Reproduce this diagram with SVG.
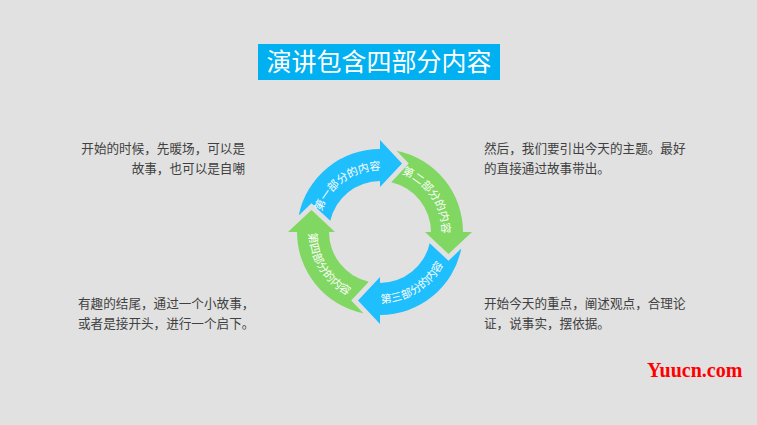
<svg xmlns="http://www.w3.org/2000/svg" xmlns:xlink="http://www.w3.org/1999/xlink" width="757" height="425" viewBox="0 0 757 425">
<style>
.blue{fill:#1fbefd}
.green{fill:#80d761}
.lbl{font-family:"Noto Sans CJK SC",sans-serif;font-size:11px;fill:#ffffff}
.body{font-family:"Noto Sans CJK SC",sans-serif;font-size:12.6px;fill:#404040}
.title{font-family:"Noto Sans CJK SC",sans-serif;font-size:25px;fill:#ffffff}
</style>
<defs>
<path id="arrowShape" d="M298.7,215.4 A83,83 0 0 1 380,149 L380,140 L402,163.5 L380,187 L380,181 A51,51 0 0 0 330.3,220.75 L311.5,203.2 Z"/>
<path id="p1" d="M318.24,237.40 A62,62 0 0 1 406.20,175.81"/>
<path id="p2" d="M375.67,170.15 A62,62 0 0 1 435.73,259.18"/>
<path id="p3" d="M346.67,294.69 A71,71 0 0 0 450.96,229.52"/>
<path id="p4" d="M317.31,198.67 A71,71 0 0 0 382.48,302.96"/>
</defs>
<rect x="0" y="0" width="757" height="425" fill="#e1e1e1"/>
<g id="title">
<rect x="258" y="44" width="242" height="36" fill="#00b0f0"/>
<text class="title" x="379" y="71" text-anchor="middle">演讲包含四部分内容</text>
</g>
<g id="part1">
<use href="#arrowShape" class="blue"/>
<text class="lbl" text-anchor="middle"><textPath href="#p1" startOffset="50%">第一部分的内容</textPath></text>
</g>
<g id="part2">
<use href="#arrowShape" class="green" transform="rotate(90 380 232)"/>
<text class="lbl" text-anchor="middle"><textPath href="#p2" startOffset="50%">第二部分的内容</textPath></text>
</g>
<g id="part3">
<use href="#arrowShape" class="blue" transform="rotate(180 380 232)"/>
<text class="lbl" text-anchor="middle"><textPath href="#p3" startOffset="50%">第三部分的内容</textPath></text>
</g>
<g id="part4">
<use href="#arrowShape" class="green" transform="rotate(270 380 232)"/>
<text class="lbl" text-anchor="middle"><textPath href="#p4" startOffset="50%">第四部分的内容</textPath></text>
</g>
<g id="connectors"/>
<g id="text-top-left">
<text class="body" x="245" y="153" text-anchor="end">开始的时候，先暖场，可以是</text>
<text class="body" x="245" y="173" text-anchor="end">故事，也可以是自嘲</text>
</g>
<g id="text-top-right">
<text class="body" x="484" y="153">然后，我们要引出今天的主题。最好</text>
<text class="body" x="484" y="173">的直接通过故事带出。</text>
</g>
<g id="text-bottom-left">
<text class="body" x="78" y="308">有趣的结尾，通过一个小故事，</text>
<text class="body" x="78" y="328">或者是接开头，进行一个启下。</text>
</g>
<g id="text-bottom-right">
<text class="body" x="484" y="308">开始今天的重点，阐述观点，合理论</text>
<text class="body" x="484" y="328">证，说事实，摆依据。</text>
</g>
<g id="watermark">
<text x="647" y="377" font-family="Liberation Serif, serif" font-weight="bold" font-size="20" fill="#ff0000">Yuucn.com</text>
</g>
</svg>
